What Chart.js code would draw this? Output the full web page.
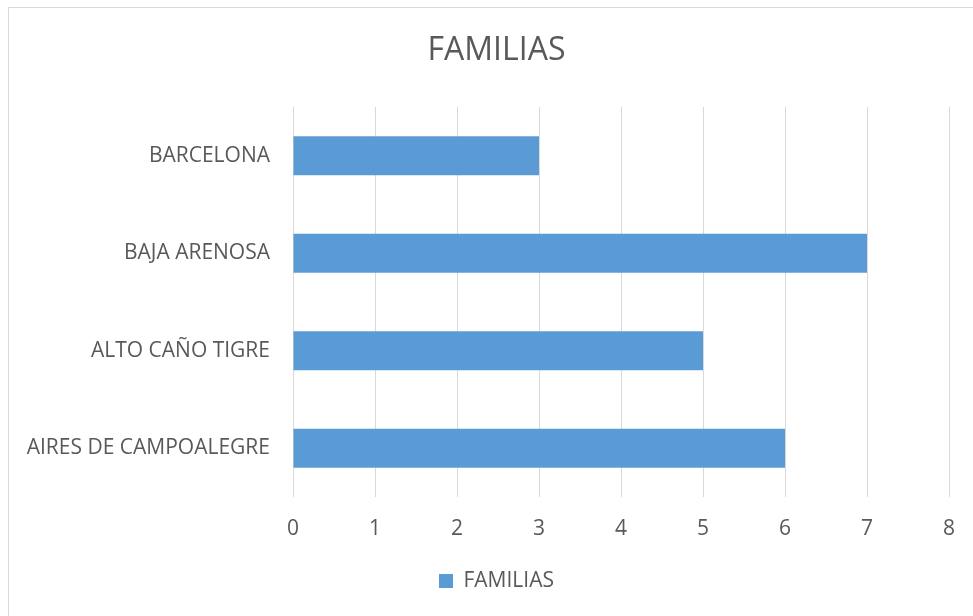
<!DOCTYPE html>
<html>
<head>
<meta charset="utf-8">
<script src="https://cdn.jsdelivr.net/npm/chart.js@4/dist/chart.umd.min.js"></script>
<style>
  html, body { margin: 0; padding: 0; background: #ffffff; overflow: hidden; }
  #wrap { position: relative; width: 973px; height: 616px; overflow: hidden; }
  #frame { position: absolute; left: 8px; top: 7px; width: 980px; height: 620px;
           border: 1px solid #d9d9d9; box-sizing: border-box; pointer-events: none; }
  canvas { position: absolute; left: 0; top: 0; }
</style>
</head>
<body>
<div id="wrap">
  <canvas id="chart" width="1000" height="616"></canvas>
  <div id="frame"></div>
</div>
<script>
const categories = ['BARCELONA', 'BAJA ARENOSA', 'ALTO CAÑO TIGRE', 'AIRES DE CAMPOALEGRE'];
const familias = [3, 7, 5, 6];
const seriesName = 'FAMILIAS';
const chartTitle = 'FAMILIAS';
const xMin = 0, xMax = 8, xStep = 1;

const FONT = "'Open Sans', sans-serif";
const TEXT = '#595959';
const GRID = '#d9d9d9';
const BAR = '#5b9bd5';

new Chart(document.getElementById('chart'), {
  type: 'bar',
  data: {
    labels: categories,
    datasets: [{
      label: seriesName,
      data: familias,
      backgroundColor: BAR,
      borderWidth: 0,
      barPercentage: 0.4,
      categoryPercentage: 1.0,
      yAxisID: 'y'
    }]
  },
  options: {
    indexAxis: 'y',
    responsive: false,
    animation: false,
    layout: { padding: { left: 0, right: 7, top: 10, bottom: 14.5 } },
    plugins: {
      title: {
        display: true,
        text: chartTitle,
        color: TEXT,
        font: { family: FONT, size: 32, weight: 'normal' },
        padding: { top: 22, bottom: 36.6 }
      },
      legend: {
        display: true,
        position: 'bottom',
        labels: {
          color: TEXT,
          font: { family: FONT, size: 21 },
          boxWidth: 14,
          boxHeight: 14,
          padding: 8
        }
      },
      tooltip: { enabled: false }
    },
    scales: {
      x: {
        min: xMin,
        max: xMax,
        ticks: { stepSize: xStep, color: TEXT, font: { family: FONT, size: 21 }, padding: 19 },
        grid: { color: GRID, lineWidth: 1, drawTicks: false },
        border: { display: false },
        afterFit: (s) => { s.height = 65.5; }
      },
      y: {
        ticks: { color: TEXT, font: { family: FONT, size: 21 }, padding: 23 },
        grid: { display: false, drawTicks: false },
        border: { display: false },
        afterFit: (s) => { s.width = 293; }
      },
      // empty margin on the right side of the plot
      yRight: {
        type: 'category',
        position: 'right',
        ticks: { display: false },
        grid: { display: false, drawTicks: false },
        border: { display: false },
        afterFit: (s) => { s.width = 44; }
      }
    }
  }
});
</script>
</body>
</html>
